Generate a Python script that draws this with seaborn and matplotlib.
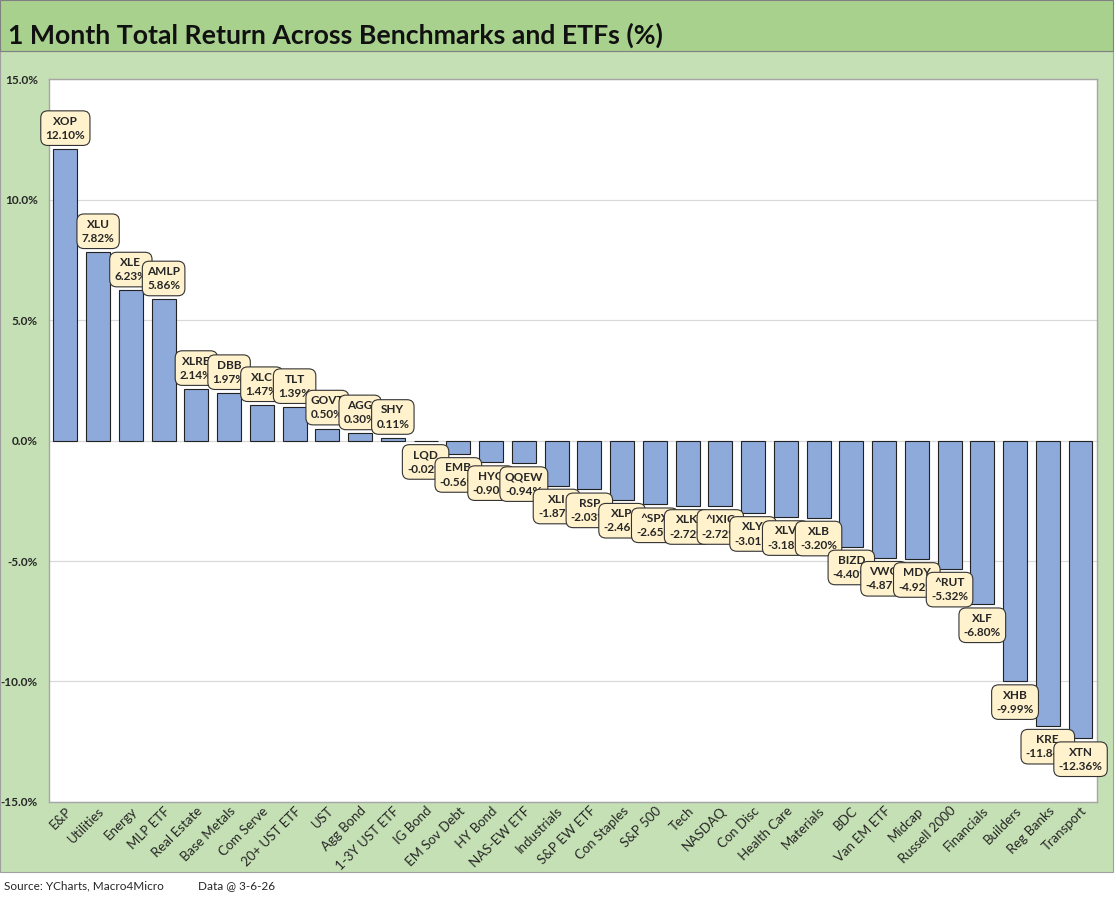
import matplotlib
matplotlib.use("Agg")
import matplotlib.pyplot as plt
import seaborn as sns
import pandas as pd
from matplotlib.patches import Rectangle

# Veriler
categories = ["E&P", "Utilities", "Energy", "MLP ETF", "Real Estate", "Base Metals",
              "Com Serve", "20+ UST ETF", "UST", "Agg Bond", "1-3Y UST ETF", "IG Bond",
              "EM Sov Debt", "HY Bond", "NAS-EW ETF", "Industrials", "S&P EW ETF",
              "Con Staples", "S&P 500", "Tech", "NASDAQ", "Con Disc", "Health Care",
              "Materials", "BDC", "Van EM ETF", "Midcap", "Russell 2000", "Financials",
              "Builders", "Reg Banks", "Transport"]
tickers = ["XOP", "XLU", "XLE", "AMLP", "XLRE", "DBB", "XLC", "TLT", "GOVT", "AGG",
           "SHY", "LQD", "EMB", "HYG", "QQEW", "XLI", "RSP", "XLP", "^SPX", "XLK",
           "^IXIC", "XLY", "XLV", "XLB", "BIZD", "VWO", "MDY", "^RUT", "XLF", "XHB",
           "KRE", "XTN"]
returns = [12.10, 7.82, 6.23, 5.86, 2.14, 1.97, 1.47, 1.39, 0.50, 0.30, 0.11, -0.02,
           -0.56, -0.90, -0.94, -1.87, -2.03, -2.46, -2.65, -2.72, -2.72, -3.01, -3.18,
           -3.20, -4.40, -4.87, -4.92, -5.32, -6.80, -9.99, -11.84, -12.36]
yticks = [-15, -10, -5, 0, 5, 10, 15]

df = pd.DataFrame({"category": categories, "ticker": tickers, "ret": returns})

sns.set_style("white")
plt.rcParams["font.family"] = ["Lato", "DejaVu Sans"]

fig = plt.figure(figsize=(11.16, 9), dpi=100)

# arka plan bantları
fig.patches.append(Rectangle((0, 0.031), 0.997, 0.912, transform=fig.transFigure,
                             facecolor="#c5e0b4", edgecolor="#a0a0a0", lw=0.8, zorder=-2))
fig.patches.append(Rectangle((0, 0.943), 0.997, 0.057, transform=fig.transFigure,
                             facecolor="#a9d18e", edgecolor="#808080", lw=0.8, zorder=-2))
fig.text(0.007, 0.961, "1 Month Total Return Across Benchmarks and ETFs (%)",
         fontsize=19.2, fontweight="bold", va="center", ha="left", color="#111111")

ax = fig.add_axes([0.0439, 0.109, 0.939, 0.803])
sns.barplot(data=df, x="category", y="ret", color="#8eaadb", edgecolor="#222222",
            linewidth=0.8, width=0.73, saturation=1, ax=ax, zorder=3)

ax.set_ylim(-15, 15)
ax.set_yticks(yticks)
ax.set_yticklabels([f"{t:.1f}%" for t in yticks], fontsize=8.5, fontweight="bold")
ax.yaxis.grid(True, color="#d9d9d9", lw=0.9, zorder=0)
ax.set_axisbelow(True)
ax.set_xlim(-0.5, len(categories) - 0.5)
ax.set_xlabel("")
ax.set_ylabel("")
ax.tick_params(axis="y", length=0, pad=8)
ax.tick_params(axis="x", length=0, pad=2)
plt.setp(ax.get_xticklabels(), rotation=45, ha="right", rotation_mode="anchor",
         fontsize=9.5)
for s in ax.spines.values():
    s.set_color("#a6a6a6")
    s.set_linewidth(1)

# etiketler
for i, (tk, v) in enumerate(zip(tickers, returns)):
    txt = f"{tk}\n{v:.2f}%"
    if v >= 0:
        ax.annotate(txt, (i, v), xytext=(0, 6), textcoords="offset points",
                    ha="center", va="bottom", fontsize=8.5, fontweight="bold",
                    linespacing=1.35, zorder=5,
                    bbox=dict(boxstyle="round,pad=0.4,rounding_size=0.6",
                              fc="#fff2cc", ec="#333333", lw=0.8))
    else:
        ax.annotate(txt, (i, v), xytext=(0, -6), textcoords="offset points",
                    ha="center", va="top", fontsize=8.5, fontweight="bold",
                    linespacing=1.35, zorder=5,
                    bbox=dict(boxstyle="round,pad=0.4,rounding_size=0.6",
                              fc="#fff2cc", ec="#333333", lw=0.8))

fig.text(0.004, 0.016, "Source: YCharts, Macro4Micro", fontsize=8.5, va="center")
fig.text(0.177, 0.016, "Data @ 3-6-26", fontsize=8.5, va="center")

fig.savefig("out.png", dpi=100, facecolor="white")
